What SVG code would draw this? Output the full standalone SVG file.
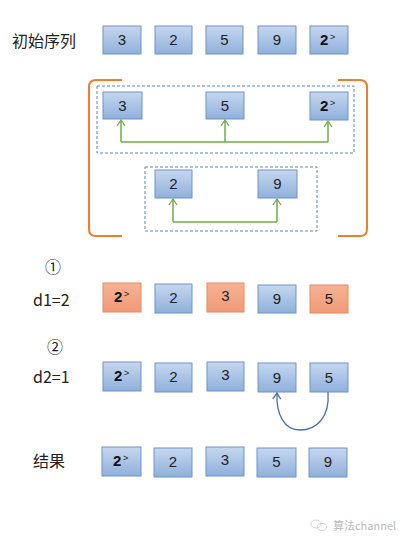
<svg xmlns="http://www.w3.org/2000/svg" width="405" height="543" viewBox="0 0 405 543">
<defs>
<linearGradient id="gb" x1="0" y1="0" x2="0" y2="1">
<stop offset="0" stop-color="#c6d7ee"/>
<stop offset="1" stop-color="#8fb0dc"/>
</linearGradient>
<linearGradient id="go" x1="0" y1="0" x2="0" y2="1">
<stop offset="0" stop-color="#f6b294"/>
<stop offset="1" stop-color="#f09a76"/>
</linearGradient>
<marker id="ag" viewBox="0 0 10 10" refX="9" refY="5" markerWidth="10" markerHeight="10" markerUnits="userSpaceOnUse" orient="auto">
<path d="M3,1 L9,5 L3,9" fill="none" stroke="#70ad47" stroke-width="1.3"/>
</marker>
<marker id="ab" viewBox="0 0 10 10" refX="9" refY="5" markerWidth="10" markerHeight="10" markerUnits="userSpaceOnUse" orient="auto">
<path d="M3,1 L9,5 L3,9" fill="none" stroke="#4a6ea8" stroke-width="1.3"/>
</marker>
</defs>
<style>
.b{fill:url(#gb);stroke:#6f93c6;stroke-width:1}
.o{fill:url(#go);stroke:#e58b5d;stroke-width:1}
.t{font-family:"Liberation Sans",Arial,sans-serif;font-size:15px;fill:#222;text-anchor:middle}
.tb{font-family:"Liberation Sans",Arial,sans-serif;font-size:15px;font-weight:bold;fill:#111}
.sup{font-family:"Liberation Sans",Arial,sans-serif;font-size:9px;fill:#222}
.lbl{font-family:"Noto Sans CJK SC","Liberation Sans",sans-serif;font-size:16px;fill:#222}
.dash{fill:none;stroke:#5b87b8;stroke-width:1;stroke-dasharray:3,2}
.g{fill:none;stroke:#70ad47;stroke-width:1.5}
</style>
<rect width="405" height="543" fill="#ffffff"/>

<!-- labels -->
<text class="lbl" x="12" y="47">初始序列</text>
<text class="lbl" x="45" y="273" font-size="14">①</text>
<text class="lbl" x="33" y="306">d1=2</text>
<text class="lbl" x="47" y="353" font-size="14">②</text>
<text class="lbl" x="33" y="383">d2=1</text>
<text class="lbl" x="33" y="467">结果</text>

<!-- row 1 -->
<g id="r1n1"><rect class="b" x="103" y="26" width="38" height="28"/><text class="t" x="122" y="45">3</text></g>
<g id="r1n2"><rect class="b" x="155" y="26" width="37" height="28"/><text class="t" x="173.5" y="45">2</text></g>
<g id="r1n3"><rect class="b" x="206" y="26" width="37" height="28"/><text class="t" x="224.5" y="45">5</text></g>
<g id="r1n4"><rect class="b" x="258" y="26" width="38" height="28"/><text class="t" x="277" y="45">9</text></g>
<g id="r1n5"><rect class="b" x="310" y="26" width="38" height="28"/><text class="tb" x="320" y="45">2</text><text class="sup" x="330" y="40">&gt;</text></g>

<!-- brackets and groups -->
<g id="bracket">
<path d="M122,80 L96,80 Q89,80 89,87 L89,229 Q89,236 96,236 L122,236" fill="none" stroke="#ed7d31" stroke-width="2"/>
<path d="M338,80 L360,80 Q367,80 367,87 L367,229 Q367,236 360,236 L338,236" fill="none" stroke="#ed7d31" stroke-width="2"/>
</g>
<g id="group1"><rect class="dash" x="97" y="86" width="257" height="67"/></g>
<g id="group2"><rect class="dash" x="145" y="167" width="172" height="64"/></g>

<g id="g1n1"><rect class="b" x="103" y="92" width="39" height="27"/><text class="t" x="122.5" y="111">3</text></g>
<g id="g1n2"><rect class="b" x="206" y="92" width="38" height="27"/><text class="t" x="225" y="111">5</text></g>
<g id="g1n3"><rect class="b" x="310" y="92" width="38" height="28"/><text class="tb" x="320" y="111">2</text><text class="sup" x="330" y="106">&gt;</text></g>
<g id="g2n1"><rect class="b" x="155" y="170" width="37" height="28"/><text class="t" x="173.5" y="189">2</text></g>
<g id="g2n2"><rect class="b" x="258" y="170" width="39" height="28"/><text class="t" x="277.5" y="189">9</text></g>

<!-- row d1 -->
<g id="d1n1"><rect class="o" x="103" y="283" width="38" height="29"/><text class="tb" x="114" y="302">2</text><text class="sup" x="124" y="297">&gt;</text></g>
<g id="d1n2"><rect class="b" x="155" y="284" width="37" height="29"/><text class="t" x="173.5" y="303">2</text></g>
<g id="d1n3"><rect class="o" x="207" y="283" width="37" height="29"/><text class="t" x="225.5" y="301">3</text></g>
<g id="d1n4"><rect class="b" x="258" y="285" width="38" height="28"/><text class="t" x="277" y="304">9</text></g>
<g id="d1n5"><rect class="o" x="310" y="285" width="38" height="28"/><text class="t" x="329" y="304">5</text></g>

<!-- row d2 -->
<g id="d2n1"><rect class="b" x="103" y="362" width="38" height="29"/><text class="tb" x="114" y="381">2</text><text class="sup" x="124" y="376">&gt;</text></g>
<g id="d2n2"><rect class="b" x="155" y="363" width="37" height="29"/><text class="t" x="173.5" y="382">2</text></g>
<g id="d2n3"><rect class="b" x="207" y="362" width="37" height="29"/><text class="t" x="225.5" y="380">3</text></g>
<g id="d2n4"><rect class="b" x="258" y="363" width="38" height="29"/><text class="t" x="277" y="383">9</text></g>
<g id="d2n5"><rect class="b" x="310" y="363" width="38" height="29"/><text class="t" x="329" y="383">5</text></g>

<!-- result row -->
<g id="rn1"><rect class="b" x="102" y="447" width="39" height="29"/><text class="tb" x="113" y="466">2</text><text class="sup" x="123" y="461">&gt;</text></g>
<g id="rn2"><rect class="b" x="154" y="448" width="38" height="29"/><text class="t" x="173" y="467">2</text></g>
<g id="rn3"><rect class="b" x="206" y="447" width="38" height="29"/><text class="t" x="225" y="465">3</text></g>
<g id="rn4"><rect class="b" x="257" y="448" width="39" height="29"/><text class="t" x="276.5" y="467">5</text></g>
<g id="rn5"><rect class="b" x="309" y="448" width="38" height="29"/><text class="t" x="328" y="467">9</text></g>

<!-- connectors -->
<g id="connectors">
<path class="g" d="M121,142 L328,142"/>
<path class="g" d="M121,142 L121,120" marker-end="url(#ag)"/>
<path class="g" d="M225,142 L225,120" marker-end="url(#ag)" stroke-width="2"/>
<path class="g" d="M328,142 L328,121" marker-end="url(#ag)"/>
<path class="g" d="M173,222 L277,222"/>
<path class="g" d="M173,222 L173,199" marker-end="url(#ag)"/>
<path class="g" d="M277,222 L277,199" marker-end="url(#ag)"/>
<path d="M328,392 C330,418 316,430 300,430 C284,430 276,414 277,393" fill="none" stroke="#4a6ea8" stroke-width="1.3" marker-end="url(#ab)"/>
</g>

<!-- watermark -->
<g id="watermark" opacity="0.45">
<ellipse cx="316" cy="524" rx="5" ry="4" fill="none" stroke="#888" stroke-width="0.8"/>
<ellipse cx="322" cy="527" rx="4.5" ry="3.5" fill="none" stroke="#888" stroke-width="0.8"/>
<text x="333" y="530" font-family="Noto Sans CJK SC,Liberation Sans,sans-serif" font-size="11" fill="#666">算法channel</text>
</g>
</svg>
